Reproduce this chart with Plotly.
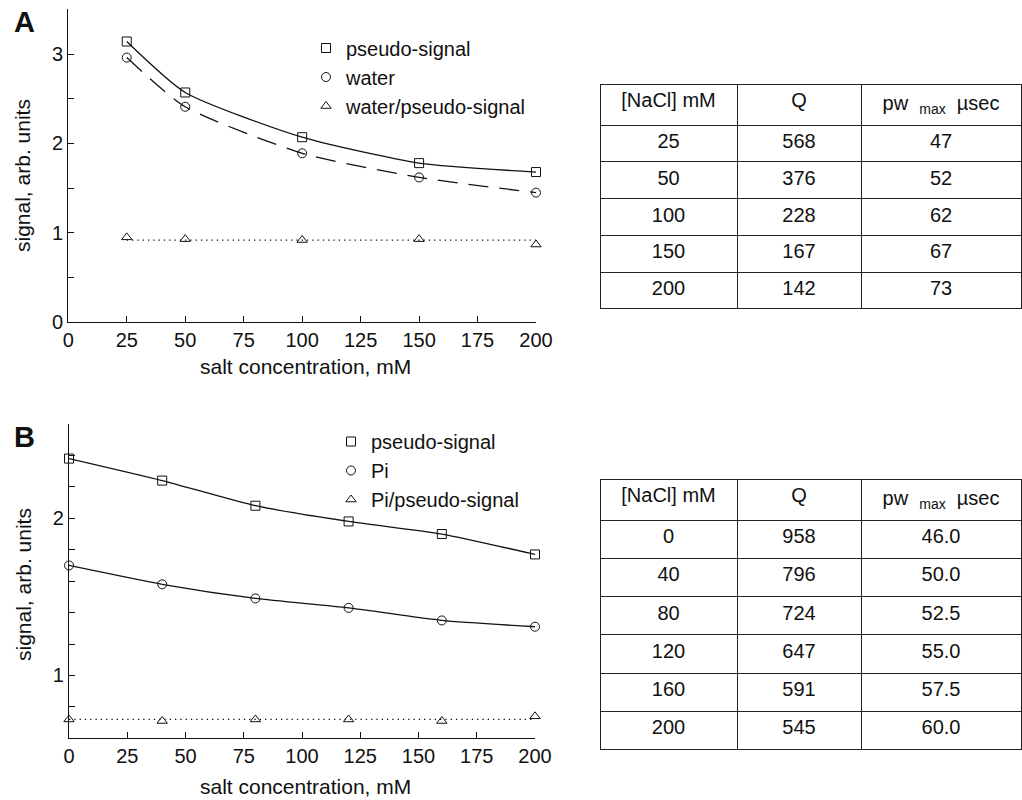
import plotly.graph_objects as go

# ---------------- data ----------------
# Panel A
a_salt = [25, 50, 100, 150, 200]
a_pseudo = [3.14, 2.57, 2.07, 1.78, 1.68]
a_water = [2.96, 2.41, 1.89, 1.62, 1.45]
a_ratio = [0.95, 0.93, 0.92, 0.93, 0.87]

# Panel B
b_salt = [0, 40, 80, 120, 160, 200]
b_pseudo = [2.38, 2.24, 2.08, 1.98, 1.90, 1.77]
b_pi = [1.70, 1.58, 1.49, 1.43, 1.35, 1.31]
b_ratio = [0.72, 0.71, 0.72, 0.72, 0.71, 0.74]

# Tables
tbl_header = ["[NaCl] mM", "Q", "pw  <sub>max</sub>  µsec"]
ta_nacl = ["25", "50", "100", "150", "200"]
ta_q = ["568", "376", "228", "167", "142"]
ta_pw = ["47", "52", "62", "67", "73"]
tb_nacl = ["0", "40", "80", "120", "160", "200"]
tb_q = ["958", "796", "724", "647", "591", "545"]
tb_pw = ["46.0", "50.0", "52.5", "55.0", "57.5", "60.0"]

FONT = "Liberation Sans, Arial, sans-serif"
W, H = 1022, 800
INK = "#111111"


def px_x(p):
    return p / W


def px_y(p):
    return 1 - p / H


fig = go.Figure()


def add_series(x, y, symbol, name, xa, ya, legend, dash="solid", draw_line=True):
    if draw_line:
        fig.add_trace(go.Scatter(
            x=x, y=y, mode="lines",
            line=dict(color=INK, width=1.3, dash=dash, shape="spline", smoothing=0.6),
            xaxis=xa, yaxis=ya, showlegend=False, hoverinfo="skip", cliponaxis=False))
    fig.add_trace(go.Scatter(
        x=x, y=y, mode="markers", name=name,
        marker=dict(symbol=symbol, size=9, color=INK, line=dict(color=INK, width=1)),
        xaxis=xa, yaxis=ya, legend=legend, cliponaxis=False))


def add_mean_line(x, y, xa, ya):
    m = sum(y) / len(y)
    fig.add_trace(go.Scatter(
        x=[x[0], x[-1]], y=[m, m], mode="lines",
        line=dict(color=INK, width=1.3, dash="1.3px,4px"),
        xaxis=xa, yaxis=ya, showlegend=False, hoverinfo="skip", cliponaxis=False))


# Panel A
add_series(a_salt, a_pseudo, "square-open", "pseudo-signal", "x", "y", "legend")
add_series(a_salt, a_water, "circle-open", "water", "x", "y", "legend", dash="20px,11px")
add_mean_line(a_salt, a_ratio, "x", "y")
add_series(a_salt, a_ratio, "triangle-up-open", "water/pseudo-signal", "x", "y", "legend",
           draw_line=False)

# Panel B
add_series(b_salt, b_pseudo, "square-open", "pseudo-signal", "x2", "y2", "legend2")
add_series(b_salt, b_pi, "circle-open", "Pi", "x2", "y2", "legend2")
add_mean_line(b_salt, b_ratio, "x2", "y2")
add_series(b_salt, b_ratio, "triangle-up-open", "Pi/pseudo-signal", "x2", "y2", "legend2",
           draw_line=False)

# Tables
cell_font = dict(family=FONT, size=20, color=INK)
line_style = dict(color="#222222", width=1)
fig.add_trace(go.Table(
    domain=dict(x=[px_x(600), px_x(1021)], y=[px_y(315), px_y(84)]),
    columnwidth=[137, 124, 160],
    header=dict(values=tbl_header, height=36.7, align="center",
                fill_color="white", line=line_style, font=cell_font),
    cells=dict(values=[ta_nacl, ta_q, ta_pw], height=36.7, align="center",
               fill_color="white", line=line_style, font=cell_font),
))
fig.add_trace(go.Table(
    domain=dict(x=[px_x(600), px_x(1021)], y=[px_y(760), px_y(479)]),
    columnwidth=[137, 124, 160],
    header=dict(values=tbl_header, height=38.2, align="center",
                fill_color="white", line=line_style, font=cell_font),
    cells=dict(values=[tb_nacl, tb_q, tb_pw], height=38.2, align="center",
               fill_color="white", line=line_style, font=cell_font),
))

axis_common = dict(
    showline=True, linecolor=INK, linewidth=1.3, mirror=False,
    ticks="inside", ticklen=6, tickwidth=1.2, tickcolor=INK,
    showgrid=False, zeroline=False, automargin=False,
    tickfont=dict(family=FONT, size=20, color=INK),
)


def ann(text, xp, yp, size, bold=False, angle=0):
    return dict(text=f"<b>{text}</b>" if bold else text, x=px_x(xp), y=px_y(yp),
                xref="paper", yref="paper", xanchor="center", yanchor="middle",
                showarrow=False, textangle=angle,
                font=dict(family=FONT, size=size, color=INK))


fig.update_layout(
    width=W, height=H,
    margin=dict(l=0, r=0, t=0, b=0),
    paper_bgcolor="white", plot_bgcolor="white",
    font=dict(family=FONT, color=INK),
    xaxis=dict(domain=[px_x(68.3), px_x(536)], range=[0, 200], dtick=25, tick0=0,
               anchor="y", **axis_common),
    yaxis=dict(domain=[px_y(322.3), px_y(9.3)], range=[0, 3.5001], dtick=1, tick0=0,
               anchor="x",
               minor=dict(dtick=0.5, tick0=0, ticks="inside", ticklen=6, tickwidth=1.2, tickcolor=INK),
               **axis_common),
    xaxis2=dict(domain=[px_x(69), px_x(535)], range=[0, 200], dtick=25, tick0=0,
                anchor="y2", **axis_common),
    yaxis2=dict(domain=[px_y(738.3), px_y(424)], range=[0.6, 2.6001], dtick=1, tick0=0,
                anchor="x2",
                minor=dict(dtick=0.2, tick0=0, ticks="inside", ticklen=6, tickwidth=1.2, tickcolor=INK),
                **axis_common),
    legend=dict(x=px_x(306), y=px_y(28.5), xanchor="left", yanchor="top",
                bgcolor="rgba(0,0,0,0)", font=dict(family=FONT, size=20, color=INK),
                tracegroupgap=0),
    legend2=dict(x=px_x(331), y=px_y(422), xanchor="left", yanchor="top",
                 bgcolor="rgba(0,0,0,0)", font=dict(family=FONT, size=20, color=INK),
                 tracegroupgap=0),
    annotations=[
        ann("A", 24, 22.5, 29, bold=True),
        ann("B", 24, 437, 29, bold=True),
        ann("signal, arb. units", 23, 176, 21, angle=-90),
        ann("signal, arb. units", 23, 585, 21, angle=-90),
        ann("salt concentration, mM", 305, 366, 21),
        ann("salt concentration, mM", 305, 786, 21),
    ],
)

fig.write_html("out.html", config={"displayModeBar": False},
               post_script="document.body.style.margin='0px';document.body.style.padding='0px';")
